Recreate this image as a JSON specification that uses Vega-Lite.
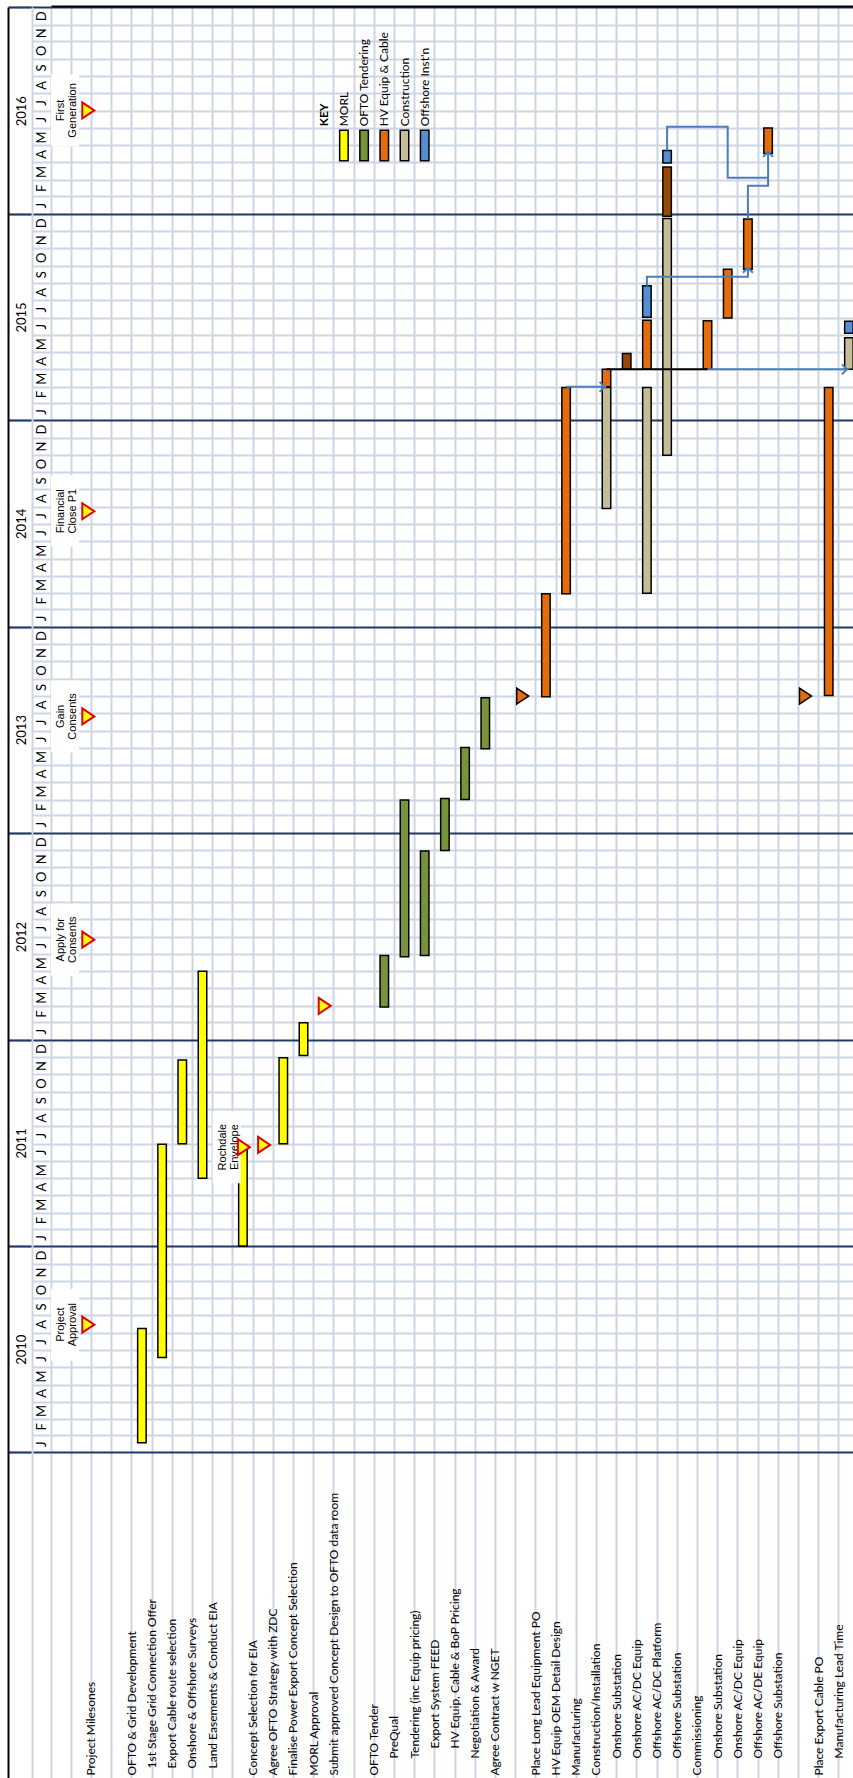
{
  "$schema": "https://vega.github.io/schema/vega-lite/v6.json",
  "width": 802,
  "height": 1771,
  "autosize": {"type": "none"},
  "padding": {"left": 51, "top": 7, "right": 0, "bottom": 0},
  "background": "white",
  "config": {"view": {"stroke": null}, "font": "Lato"},
  "datasets": {
    "tasks": [
      {"key": "00|0|"},
      {"key": "01|0|Project Milesones"},
      {"key": "02|0|"},
      {"key": "03|0|OFTO & Grid Development"},
      {"key": "04|1|1st Stage Grid Connection Offer"},
      {"key": "05|1|Export Cable route selection"},
      {"key": "06|1|Onshore & Offshore Surveys"},
      {"key": "07|1|Land Easements & Conduct EIA"},
      {"key": "08|0|"},
      {"key": "09|0|Concept Selection for EIA"},
      {"key": "10|0|Agree OFTO Strategy with ZDC"},
      {"key": "11|0|Finalise Power Export Concept Selection"},
      {"key": "12|0|MORL Approval"},
      {"key": "13|0|Submit approved Concept Design to OFTO data room"},
      {"key": "14|0|"},
      {"key": "15|0|OFTO Tender"},
      {"key": "16|2|PreQual"},
      {"key": "17|2|Tendering (inc Equip pricing)"},
      {"key": "18|3|Export System FEED"},
      {"key": "19|3|HV Equip, Cable & BoP Pricing"},
      {"key": "20|2|Negotiation & Award"},
      {"key": "21|0|Agree Contract w NGET"},
      {"key": "22|0|"},
      {"key": "23|0|Place Long Lead Equipment PO"},
      {"key": "24|0|HV Equip OEM Detail Design"},
      {"key": "25|0|Manufacturing"},
      {"key": "26|0|Construction/Installation"},
      {"key": "27|2|Onshore Substation"},
      {"key": "28|2|Onshore AC/DC Equip"},
      {"key": "29|2|Offshore AC/DC Platform"},
      {"key": "30|2|Offshore Substation"},
      {"key": "31|0|Commissioning"},
      {"key": "32|2|Onshore Substation"},
      {"key": "33|2|Onshore AC/DC Equip"},
      {"key": "34|2|Offshore AC/DE Equip"},
      {"key": "35|2|Offshore Substation"},
      {"key": "36|0|"},
      {"key": "37|0|Place Export Cable PO"},
      {"key": "38|2|Manufacturing Lead Time"},
      {"key": "39|2|Install Export Cable"}
    ],
    "bars": [
      {"key": "04|1|1st Stage Grid Connection Offer", "start": "2010-01-18", "end": "2010-08-08", "cat": "MORL"},
      {"key": "05|1|Export Cable route selection", "start": "2010-06-18", "end": "2011-06-30", "cat": "MORL"},
      {"key": "06|1|Onshore & Offshore Surveys", "start": "2011-07-01", "end": "2011-11-26", "cat": "MORL"},
      {"key": "07|1|Land Easements & Conduct EIA", "start": "2011-05-01", "end": "2012-05-01", "cat": "MORL"},
      {"key": "09|0|Concept Selection for EIA", "start": "2011-01-01", "end": "2011-06-25", "cat": "MORL"},
      {"key": "11|0|Finalise Power Export Concept Selection", "start": "2011-07-01", "end": "2011-11-30", "cat": "MORL"},
      {"key": "12|0|MORL Approval", "start": "2011-12-04", "end": "2012-01-31", "cat": "MORL"},
      {"key": "16|2|PreQual", "start": "2012-02-28", "end": "2012-05-29", "cat": "OFTO Tendering"},
      {"key": "17|2|Tendering (inc Equip pricing)", "start": "2012-05-27", "end": "2013-02-28", "cat": "OFTO Tendering"},
      {"key": "18|3|Export System FEED", "start": "2012-05-29", "end": "2012-11-30", "cat": "OFTO Tendering"},
      {"key": "19|3|HV Equip, Cable & BoP Pricing", "start": "2012-12-01", "end": "2013-03-03", "cat": "OFTO Tendering"},
      {"key": "20|2|Negotiation & Award", "start": "2013-03-01", "end": "2013-06-01", "cat": "OFTO Tendering"},
      {"key": "21|0|Agree Contract w NGET", "start": "2013-05-30", "end": "2013-08-28", "cat": "OFTO Tendering"},
      {"key": "24|0|HV Equip OEM Detail Design", "start": "2013-08-30", "end": "2014-02-28", "cat": "HV Equip & Cable"},
      {"key": "25|0|Manufacturing", "start": "2014-02-28", "end": "2015-02-28", "cat": "HV Equip & Cable"},
      {"key": "27|2|Onshore Substation", "start": "2014-07-29", "end": "2015-02-28", "cat": "Construction"},
      {"key": "27|2|Onshore Substation", "start": "2015-03-01", "end": "2015-04-01", "cat": "HV Equip & Cable"},
      {"key": "28|2|Onshore AC/DC Equip", "start": "2015-04-01", "end": "2015-04-29", "cat": "Installation"},
      {"key": "29|2|Offshore AC/DC Platform", "start": "2014-03-01", "end": "2015-02-28", "cat": "Construction"},
      {"key": "29|2|Offshore AC/DC Platform", "start": "2015-04-01", "end": "2015-06-27", "cat": "HV Equip & Cable"},
      {"key": "29|2|Offshore AC/DC Platform", "start": "2015-07-02", "end": "2015-08-27", "cat": "Offshore Inst'n"},
      {"key": "30|2|Offshore Substation", "start": "2014-10-31", "end": "2015-12-24", "cat": "Construction"},
      {"key": "30|2|Offshore Substation", "start": "2015-12-28", "end": "2016-03-24", "cat": "Installation"},
      {"key": "30|2|Offshore Substation", "start": "2016-03-31", "end": "2016-04-22", "cat": "Offshore Inst'n"},
      {"key": "32|2|Onshore Substation", "start": "2015-04-01", "end": "2015-06-26", "cat": "HV Equip & Cable"},
      {"key": "33|2|Onshore AC/DC Equip", "start": "2015-07-01", "end": "2015-09-25", "cat": "HV Equip & Cable"},
      {"key": "34|2|Offshore AC/DE Equip", "start": "2015-09-25", "end": "2015-12-23", "cat": "HV Equip & Cable"},
      {"key": "35|2|Offshore Substation", "start": "2016-04-17", "end": "2016-06-01", "cat": "HV Equip & Cable"},
      {"key": "38|2|Manufacturing Lead Time", "start": "2013-09-01", "end": "2015-02-28", "cat": "HV Equip & Cable"},
      {"key": "39|2|Install Export Cable", "start": "2015-04-01", "end": "2015-05-27", "cat": "Construction"},
      {"key": "39|2|Install Export Cable", "start": "2015-06-04", "end": "2015-06-25", "cat": "Offshore Inst'n"}
    ],
    "links": [
      {"path": "A", "seq": 1, "kind": "dependency", "key": "25|0|Manufacturing", "date": "2015-03-01"},
      {"path": "A", "seq": 2, "kind": "dependency", "key": "27|2|Onshore Substation", "date": "2015-03-01"},
      {"path": "B", "seq": 1, "kind": "handover", "key": "27|2|Onshore Substation", "date": "2015-04-01"},
      {"path": "B", "seq": 2, "kind": "handover", "key": "32|2|Onshore Substation", "date": "2015-04-01"},
      {"path": "C", "seq": 1, "kind": "dependency", "key": "32|2|Onshore Substation", "date": "2015-04-01"},
      {"path": "C", "seq": 2, "kind": "dependency", "key": "39|2|Install Export Cable", "date": "2015-04-01"},
      {"path": "D", "seq": 1, "kind": "dependency", "key": "29|2|Offshore AC/DC Platform", "date": "2015-08-27"},
      {"path": "D", "seq": 2, "kind": "dependency", "key": "29|2|Offshore AC/DC Platform", "date": "2015-09-12"},
      {"path": "D", "seq": 3, "kind": "dependency", "key": "34|2|Offshore AC/DE Equip", "date": "2015-09-12"},
      {"path": "D", "seq": 4, "kind": "dependency", "key": "34|2|Offshore AC/DE Equip", "date": "2015-09-25"},
      {"path": "E", "seq": 1, "kind": "dependency", "key": "34|2|Offshore AC/DE Equip", "date": "2015-12-23"},
      {"path": "E", "seq": 2, "kind": "dependency", "key": "34|2|Offshore AC/DE Equip", "date": "2016-02-20"},
      {"path": "E", "seq": 3, "kind": "dependency", "key": "35|2|Offshore Substation", "date": "2016-02-20"},
      {"path": "E", "seq": 4, "kind": "dependency", "key": "35|2|Offshore Substation", "date": "2016-04-17"},
      {"path": "F", "seq": 1, "kind": "dependency", "key": "30|2|Offshore Substation", "date": "2016-04-22"},
      {"path": "F", "seq": 2, "kind": "dependency", "key": "30|2|Offshore Substation", "date": "2016-06-03"},
      {"path": "F", "seq": 3, "kind": "dependency", "key": "33|2|Onshore AC/DC Equip", "date": "2016-06-03"},
      {"path": "F", "seq": 4, "kind": "dependency", "key": "33|2|Onshore AC/DC Equip", "date": "2016-03-05"},
      {"path": "F", "seq": 5, "kind": "dependency", "key": "35|2|Offshore Substation", "date": "2016-03-05"}
    ],
    "arrows": [
      {"dir": "right", "key": "27|2|Onshore Substation", "date": "2015-03-01"},
      {"dir": "right", "key": "39|2|Install Export Cable", "date": "2015-04-01"},
      {"dir": "up", "key": "34|2|Offshore AC/DE Equip", "date": "2015-09-25"},
      {"dir": "up", "key": "35|2|Offshore Substation", "date": "2016-04-17"}
    ],
    "milestones": [
      {"key": "01|0|Project Milesones", "date": "2010-08-15", "kind": "project", "label": "Project\nApproval", "labelKey": "00|0|"},
      {"key": "01|0|Project Milesones", "date": "2012-06-26", "kind": "project", "label": "Apply for\nConsents", "labelKey": "00|0|"},
      {"key": "01|0|Project Milesones", "date": "2013-07-26", "kind": "project", "label": "Gain\nConsents", "labelKey": "00|0|"},
      {"key": "01|0|Project Milesones", "date": "2014-07-24", "kind": "project", "label": "Financial\nClose P1", "labelKey": "00|0|"},
      {"key": "01|0|Project Milesones", "date": "2016-07-02", "kind": "project", "label": "First\nGeneration", "labelKey": "00|0|"},
      {"key": "09|0|Concept Selection for EIA", "date": "2011-06-25", "kind": "design", "label": "Rochdale\nEnvelope", "labelKey": "08|0|"},
      {"key": "10|0|Agree OFTO Strategy with ZDC", "date": "2011-06-29", "kind": "design"},
      {"key": "13|0|Submit approved Concept Design to OFTO data room", "date": "2012-03-01", "kind": "design"},
      {"key": "23|0|Place Long Lead Equipment PO", "date": "2013-08-31", "kind": "order"},
      {"key": "37|0|Place Export Cable PO", "date": "2013-08-31", "kind": "order"}
    ],
    "keyitems": [
      {"key": "13|0|Submit approved Concept Design to OFTO data room", "label": "KEY"},
      {"key": "14|0|", "label": "MORL", "cat": "MORL"},
      {"key": "15|0|OFTO Tender", "label": "OFTO Tendering", "cat": "OFTO Tendering"},
      {"key": "16|2|PreQual", "label": "HV Equip & Cable", "cat": "HV Equip & Cable"},
      {"key": "17|2|Tendering (inc Equip pricing)", "label": "Construction", "cat": "Construction"},
      {"key": "18|3|Export System FEED", "label": "Offshore Inst'n", "cat": "Offshore Inst'n"}
    ]
  },
  "resolve": {"axis": {"x": "independent", "y": "independent"}},
  "layer": [
    {
      "data": {"name": "tasks"},
      "mark": {"type": "point", "opacity": 0},
      "encoding": {
        "x": {
          "field": "key", "type": "nominal",
          "scale": {"type": "band", "range": [0, 808], "paddingInner": 0, "paddingOuter": 0},
          "axis": {
            "orient": "bottom", "title": null, "bandPosition": 0, "domain": false,
            "grid": true, "gridColor": "#cdd5e4", "gridWidth": 2,
            "ticks": true, "tickSize": 0, "tickColor": "#cdd5e4", "tickWidth": 0,
            "labelExpr": "split(datum.value, '|')[2]",
            "labelAngle": 270, "labelAlign": "left", "labelBaseline": "middle",
            "labelOffset": 10.1,
            "labelPadding": {"condition": [
              {"test": "split(datum.value, '|')[1] == '1'", "value": -10},
              {"test": "split(datum.value, '|')[1] == '2'", "value": -20},
              {"test": "split(datum.value, '|')[1] == '3'", "value": -30}
            ], "value": -3},
            "labelFont": "Lato", "labelFontSize": 12, "labelColor": "black",
            "labelOverlap": false, "labelBound": false, "labelFlush": false, "labelLimit": 0
          }
        }
      }
    },
    {
      "data": {"name": "bars"},
      "mark": {"type": "bar", "width": 8.5, "stroke": "black", "strokeWidth": 1.5},
      "encoding": {
        "x": {"field": "key", "type": "nominal", "axis": null},
        "y": {
          "field": "start", "type": "temporal",
          "scale": {"type": "utc", "nice": false, "domain": [{"year": 2008, "month": 6, "date": 4, "utc": true}, {"year": 2017, "month": 1, "date": 1, "utc": true}]},
          "axis": {
            "orient": "left", "offset": 0, "title": null,
            "tickCount": {"interval": "month", "step": 1},
            "grid": true,
            "gridColor": {"condition": {"test": "utcmonth(datum.value) === 0", "value": "#1f3864"}, "value": "#cdd5e4"},
            "gridWidth": {"condition": {"test": "utcmonth(datum.value) === 0", "value": 2.2}, "value": 2},
            "gridOpacity": {"condition": {"test": "utcyear(datum.value) < 2010", "value": 0}, "value": 1},
            "ticks": true, "tickSize": 19,
            "tickColor": {"condition": {"test": "utcmonth(datum.value) === 0", "value": "#1f3864"}, "value": "#cdd5e4"},
            "tickOpacity": {"condition": {"test": "utcyear(datum.value) < 2010", "value": 0}, "value": 1},
            "tickWidth": 2, "domain": false,
            "labelExpr": "utcyear(datum.value) > 2016 || utcyear(datum.value) < 2010 ? '' : ['J','F','M','A','M','J','J','A','S','O','N','D'][utcmonth(datum.value)]",
            "labelAngle": 270, "labelAlign": "center", "labelBaseline": "middle",
            "labelPadding": -9.5, "labelOffset": -8.6,
            "labelFont": "Lato", "labelFontSize": 13, "labelColor": "black",
            "labelOverlap": false, "labelBound": false, "labelFlush": false
          }
        },
        "y2": {"field": "end"},
        "fill": {
          "field": "cat", "type": "nominal", "legend": null,
          "scale": {"domain": ["MORL", "OFTO Tendering", "HV Equip & Cable", "Construction", "Offshore Inst'n", "Installation"],
                    "range": ["#ffff00", "#77933c", "#e46c0a", "#c4bd97", "#558ed5", "#984807"]}
        }
      }
    },
    {
      "data": {"name": "milestones"},
      "transform": [{"filter": "datum.label != null"}],
      "mark": {"type": "point", "shape": "M-0.39,-1H0.39V1H-0.39Z", "size": 5184, "filled": true, "fill": "white", "opacity": 1, "strokeWidth": 0, "xOffset": 4},
      "encoding": {
        "x": {"field": "labelKey", "type": "nominal", "axis": null},
        "y": {"field": "date", "type": "temporal", "axis": null}
      }
    },
    {
      "data": {"name": "milestones"},
      "transform": [{"filter": "datum.label != null"}],
      "mark": {"type": "text", "angle": 270, "align": "center", "baseline": "middle", "lineBreak": "\n", "lineHeight": 12, "font": "Liberation Sans", "fontSize": 11, "fill": "black", "xOffset": 0},
      "encoding": {
        "x": {"field": "labelKey", "type": "nominal", "axis": null},
        "y": {"field": "date", "type": "temporal", "axis": null},
        "text": {"field": "label"}
      }
    },
    {
      "data": {"name": "links"},
      "mark": {"type": "line", "strokeWidth": 2, "interpolate": "linear"},
      "encoding": {
        "x": {"field": "key", "type": "nominal", "axis": null},
        "y": {"field": "date", "type": "temporal", "axis": null},
        "detail": {"field": "path"},
        "order": {"field": "seq", "type": "quantitative"},
        "stroke": {"field": "kind", "type": "nominal", "legend": null, "scale": {"domain": ["dependency", "handover"], "range": ["#4a7ebb", "#000000"]}}
      }
    },
    {
      "data": {"name": "arrows"},
      "transform": [{"filter": "datum.dir == 'right'"}],
      "mark": {"type": "point", "shape": "M-0.6,-1L0.4,0L-0.6,1", "size": 100, "filled": false, "stroke": "#4a7ebb", "strokeWidth": 2, "opacity": 1, "xOffset": -4},
      "encoding": {
        "x": {"field": "key", "type": "nominal", "axis": null},
        "y": {"field": "date", "type": "temporal", "axis": null}
      }
    },
    {
      "data": {"name": "arrows"},
      "transform": [{"filter": "datum.dir == 'up'"}],
      "mark": {"type": "point", "shape": "M-1,0.7L0,-0.3L1,0.7", "size": 100, "filled": false, "stroke": "#4a7ebb", "strokeWidth": 2, "opacity": 1},
      "encoding": {
        "x": {"field": "key", "type": "nominal", "axis": null},
        "y": {"field": "date", "type": "temporal", "axis": null}
      }
    },
    {
      "data": {"name": "milestones"},
      "transform": [{"filter": "datum.kind == 'project'"}],
      "mark": {"type": "point", "shape": "M-0.75,-1L0.75,0L-0.75,1Z", "size": 256, "filled": true, "fill": "#ffff00", "stroke": "#e00000", "strokeWidth": 2, "opacity": 1, "xOffset": 7},
      "encoding": {
        "x": {"field": "key", "type": "nominal", "axis": null},
        "y": {
          "field": "date", "type": "temporal",
          "axis": {
            "orient": "left", "offset": 19, "title": null,
            "values": [
              {"year": 2010, "month": 1, "date": 1, "utc": true},
              {"year": 2011, "month": 1, "date": 1, "utc": true},
              {"year": 2012, "month": 1, "date": 1, "utc": true},
              {"year": 2013, "month": 1, "date": 1, "utc": true},
              {"year": 2014, "month": 1, "date": 1, "utc": true},
              {"year": 2015, "month": 1, "date": 1, "utc": true},
              {"year": 2016, "month": 1, "date": 1, "utc": true},
              {"year": 2017, "month": 1, "date": 1, "utc": true}
            ],
            "grid": false, "ticks": true, "tickSize": 24, "tickColor": "#1f3864", "tickWidth": 2.2,
            "domain": true, "domainColor": "#cdd5e4", "domainWidth": 2,
            "labelExpr": "utcyear(datum.value) > 2016 ? '' : '' + utcyear(datum.value)",
            "labelAngle": 270, "labelAlign": "center", "labelBaseline": "middle",
            "labelPadding": -13, "labelOffset": -103.2,
            "labelFont": "Lato", "labelFontSize": 13, "labelColor": "black",
            "labelOverlap": false, "labelBound": false, "labelFlush": false
          }
        }
      }
    },
    {
      "data": {"name": "milestones"},
      "transform": [{"filter": "datum.kind == 'design'"}],
      "mark": {"type": "point", "shape": "M-0.75,-1L0.75,0L-0.75,1Z", "size": 256, "filled": true, "fill": "#ffff00", "stroke": "#e00000", "strokeWidth": 2, "opacity": 1, "xOffset": 1},
      "encoding": {
        "x": {"field": "key", "type": "nominal", "axis": null},
        "y": {"field": "date", "type": "temporal", "axis": null}
      }
    },
    {
      "data": {"name": "milestones"},
      "transform": [{"filter": "datum.kind == 'order'"}],
      "mark": {"type": "point", "shape": "M-0.75,-1L0.75,0L-0.75,1Z", "size": 256, "filled": true, "fill": "#e46c0a", "stroke": "black", "strokeWidth": 1.5, "opacity": 1, "xOffset": -3},
      "encoding": {
        "x": {"field": "key", "type": "nominal", "axis": null},
        "y": {"field": "date", "type": "temporal", "axis": null}
      }
    },
    {
      "data": {"name": "keyitems"},
      "transform": [{"filter": "datum.cat != null"}],
      "mark": {"type": "bar", "width": 8.5, "stroke": "black", "strokeWidth": 1.5},
      "encoding": {
        "x": {
          "field": "key", "type": "nominal",
          "axis": {"orient": "top", "offset": 1, "title": null, "domain": true, "domainColor": "black", "domainWidth": 2, "ticks": false, "labels": false, "grid": false}
        },
        "y": {
          "datum": {"year": 2016, "month": 4, "date": 4, "utc": true}, "type": "temporal",
          "axis": {"orient": "left", "offset": 43, "title": null, "domain": true, "domainColor": "black", "domainWidth": 2, "ticks": false, "labels": false, "grid": false}
        },
        "y2": {"datum": {"year": 2016, "month": 5, "date": 28, "utc": true}},
        "fill": {"field": "cat", "type": "nominal", "legend": null}
      }
    },
    {
      "data": {"name": "keyitems"},
      "transform": [{"filter": "datum.label != 'KEY'"}],
      "mark": {"type": "text", "angle": 270, "align": "left", "baseline": "middle", "font": "Lato", "fontSize": 12, "fill": "black"},
      "encoding": {
        "x": {"field": "key", "type": "nominal", "axis": null},
        "y": {"datum": {"year": 2016, "month": 6, "date": 4, "utc": true}, "type": "temporal", "axis": null},
        "text": {"field": "label"}
      }
    },
    {
      "data": {"name": "keyitems"},
      "transform": [{"filter": "datum.label == 'KEY'"}],
      "mark": {"type": "text", "angle": 270, "align": "left", "baseline": "middle", "font": "Lato", "fontSize": 12, "fontWeight": "bold", "fill": "black"},
      "encoding": {
        "x": {"field": "key", "type": "nominal", "axis": null},
        "y": {"datum": {"year": 2016, "month": 6, "date": 4, "utc": true}, "type": "temporal", "axis": null},
        "text": {"field": "label"}
      }
    }
  ]
}
